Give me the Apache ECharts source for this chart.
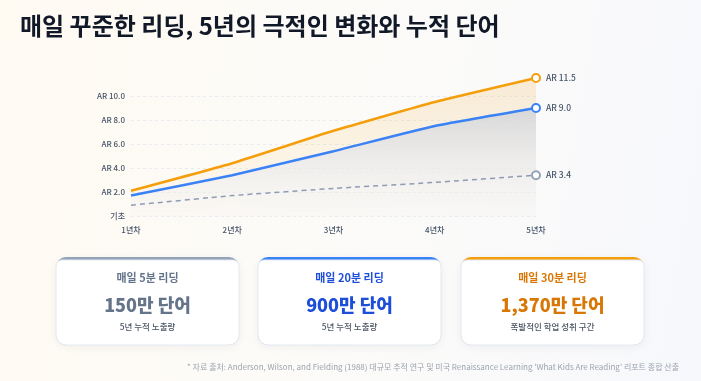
<!DOCTYPE html>
<html><head><meta charset="utf-8">
<script src="https://cdn.jsdelivr.net/npm/echarts@6/dist/echarts.min.js"></script>
<style>
html,body{margin:0;padding:0;}
#c{width:701px;height:381px;background:linear-gradient(100deg,#fffaf2 0%,#fcfbf8 45%,#f7f8fc 100%);}
</style></head>
<body><div id="c"></div>
<script>
const title = '매일 꾸준한 리딩, 5년의 극적인 변화와 누적 단어';
const years = ['1년차','2년차','3년차','4년차','5년차'];
const yTicks = [0, 2, 4, 6, 8, 10];
const read30 = [2.1, 4.4, 7.1, 9.5, 11.5];
const read20 = [1.7, 3.4, 5.4, 7.5, 9.0];
const read5  = [0.9, 1.7, 2.3, 2.8, 3.4];
const cardTitles = ['매일 5분 리딩','매일 20분 리딩','매일 30분 리딩'];
const cardValues = ['150만 단어','900만 단어','1,370만 단어'];
const cardSubs = ['5년 누적 노출량','5년 누적 노출량','폭발적인 학업 성취 구간'];
const footnote = "* 자료 출처: Anderson, Wilson, and Fielding (1988) 대규모 추적 연구 및 미국 Renaissance Learning 'What Kids Are Reading' 리포트 종합 산출";

const FONT = '"Noto Sans CJK KR", "Noto Sans", sans-serif';
const chart = echarts.init(document.getElementById('c'), null, {renderer:'canvas'});

function withEndLabel(arr, color){
  return arr.map((v,i)=> i===arr.length-1 ? {
    value:v, symbol:'circle', symbolSize:8,
    itemStyle:{color:'#fff', borderColor:color, borderWidth:2},
    label:{show:true, position:'right', distance:5, formatter:'AR '+v.toFixed(1),
      fontSize:8.5, fontWeight:500, color:'#475569', fontFamily:FONT}
  } : {value:v, symbol:'none'});
}

const cardColors = [
  {bar:'#94a3b8', title:'#64748b', value:'#64748b'},
  {bar:'#3b82f6', title:'#1d4ed8', value:'#1d4ed8'},
  {bar:'#f59e0b', title:'#d97706', value:'#d97706'}
];
const cardX = [56, 258, 461], cardY = 257, cardW = 183, cardH = 88;
const graphics = [];
cardTitles.forEach((t,i)=>{
  const x = cardX[i], cx = x + cardW/2;
  graphics.push({type:'rect', z:1, shape:{x:x, y:cardY, width:cardW, height:cardH, r:10},
    style:{fill:cardColors[i].bar, shadowBlur:10, shadowColor:'rgba(30,41,59,0.06)', shadowOffsetY:2}});
  graphics.push({type:'rect', z:2, shape:{x:x, y:cardY+3, width:cardW, height:cardH-3, r:[6,6,10,10]},
    style:{fill:'#ffffff', stroke:'#e2e8f0', lineWidth:1}});
  graphics.push({type:'text', z:3, x:cx, y:278, style:{text:t, fill:cardColors[i].title, font:'bold 11px '+FONT, textAlign:'center', textVerticalAlign:'middle'}});
  graphics.push({type:'text', z:3, x:cx, y:305, style:{text:cardValues[i], fill:cardColors[i].value, font:'900 18px '+FONT, textAlign:'center', textVerticalAlign:'middle'}});
  graphics.push({type:'text', z:3, x:cx, y:327, style:{text:cardSubs[i], fill:'#4b5563', font:'500 8.5px '+FONT, textAlign:'center', textVerticalAlign:'middle'}});
});
graphics.push({type:'text', z:3, x:679, y:367, style:{text:footnote, fill:'#9ca3af', font:'8px '+FONT, textAlign:'right', textVerticalAlign:'middle'}});

chart.setOption({
  animation:false,
  title:{text:title, left:15, top:9, textStyle:{fontSize:24, fontWeight:'bold', color:'#111827', fontFamily:FONT}},
  grid:{left:131, right:165, top:72, bottom:165},
  xAxis:{type:'category', data:years, boundaryGap:false,
    axisLine:{show:false}, axisTick:{show:false},
    axisLabel:{fontSize:8, color:'#475569', margin:10, fontFamily:FONT, fontWeight:500},
    splitLine:{show:false}},
  yAxis:{type:'value', min:0, max:12, interval:2,
    axisLine:{show:false}, axisTick:{show:false},
    axisLabel:{fontSize:8, color:'#475569', margin:6, fontFamily:FONT, fontWeight:500, showMaxLabel:false,
      formatter:v=> yTicks.indexOf(v)<0 ? '' : (v===0 ? '기초' : 'AR '+v.toFixed(1))},
    splitLine:{show:true, showMaxLine:false, lineStyle:{color:'#e8ebf0', type:[3,3], width:1}}},
  series:[
    {name:'30분', type:'line', data:withEndLabel(read30,'#f59e0b'), smooth:0.15, z:3,
      lineStyle:{color:'#f59e0b', width:2.5}, itemStyle:{color:'#f59e0b'},
      areaStyle:{color:new echarts.graphic.LinearGradient(0,0,0,1,[{offset:0,color:'rgba(245,158,11,0.22)'},{offset:1,color:'rgba(245,158,11,0.02)'}])}},
    {name:'20분', type:'line', data:withEndLabel(read20,'#3b82f6'), smooth:0.15, z:4,
      lineStyle:{color:'#3b82f6', width:2.5}, itemStyle:{color:'#3b82f6'},
      areaStyle:{opacity:1, color:new echarts.graphic.LinearGradient(0,0,0,1,[{offset:0,color:'rgba(214,214,216,0.95)'},{offset:0.5,color:'rgba(232,233,236,0.7)'},{offset:1,color:'rgba(246,247,250,0.3)'}])}},
    {name:'5분', type:'line', data:withEndLabel(read5,'#94a3b8'), smooth:0.1, z:5,
      lineStyle:{color:'#8f9bb3', width:1.5, type:[5,4]}, itemStyle:{color:'#94a3b8'}}
  ],
  graphic:graphics
});
</script></body></html>
